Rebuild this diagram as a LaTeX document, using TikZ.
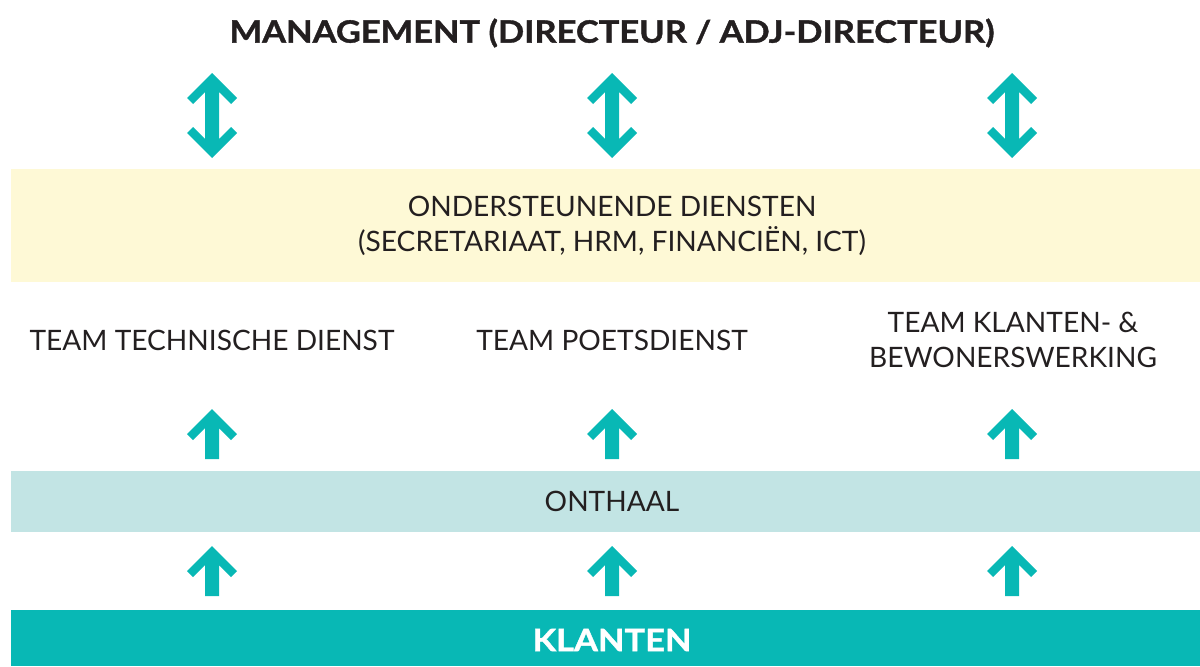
\documentclass[tikz,border=0pt]{standalone}
\usepackage{fontspec}
\setmainfont{Lato}
\newfontfamily\heavyfont[FakeStretch=1.12, FakeBold=1.2]{Lato}
\usetikzlibrary{positioning,calc}

\definecolor{teal}{HTML}{08B8B5}
\definecolor{pale}{HTML}{FEF9D6}
\definecolor{ice}{HTML}{C2E4E4}
\definecolor{ink}{HTML}{231F20}

\tikzset{
    band/.style = {rectangle, minimum width=23.78cm, inner sep=0pt},
    label/.style = {text=ink, font=\fontsize{16}{20}\selectfont, align=center},
    up/.pic = {
        \fill[teal] (0,0) -- (25,25) -- (19,31) -- (7,19) -- (7,50)
            -- (-7,50) -- (-7,19) -- (-19,31) -- (-25,25) -- cycle;
    },
    both/.pic = {
        \fill[teal] (0,0) -- (25,25) -- (19,31) -- (7,19) -- (7,66)
            -- (19,54) -- (25,60) -- (0,85) -- (-25,60) -- (-19,54)
            -- (-7,66) -- (-7,19) -- (-19,31) -- (-25,25) -- cycle;
    }
}

\begin{document}
\begin{tikzpicture}[x=0.02cm, y=-0.02cm]
    \useasboundingbox (0,0) rectangle (1200,666);

    % bands
    \node[band, fill=pale, minimum height=2.26cm] (support) at (605.5,225.5) {};
    \node[band, fill=ice, minimum height=1.22cm] (desk) at (605.5,501.5) {};
    \node[band, fill=teal, minimum height=1.12cm] (clients) at (605.5,638) {};

    \node[text=ink, font=\fontsize{17.5}{21}\heavyfont\bfseries] (mgmt) at (612,33)
        {MANAGEMENT (DIRECTEUR / ADJ-DIRECTEUR)};
    \node[label] (supporttxt) at (612,226)
        {ONDERSTEUNENDE DIENSTEN\\(SECRETARIAAT, HRM, FINANCIËN, ICT)};
    \node[label] (tech) at (212,340) {TEAM TECHNISCHE DIENST};
    \node[label] (clean) at (612,340) {TEAM POETSDIENST};
    \node[label] (resid) at (1013,340) {TEAM KLANTEN- \&\\BEWONERSWERKING};
    \node[label] (desktxt) at (612,501) {ONTHAAL};
    \node[text=white, font=\fontsize{17.5}{21}\heavyfont\bfseries] (clientstxt) at (612,640) {KLANTEN};

    % arrows per column
    \foreach \x in {212,612,1012} {
        \pic at (\x,73) {both};
        \pic at (\x,409) {up};
        \pic at (\x,546) {up};
    }
\end{tikzpicture}
\end{document}
